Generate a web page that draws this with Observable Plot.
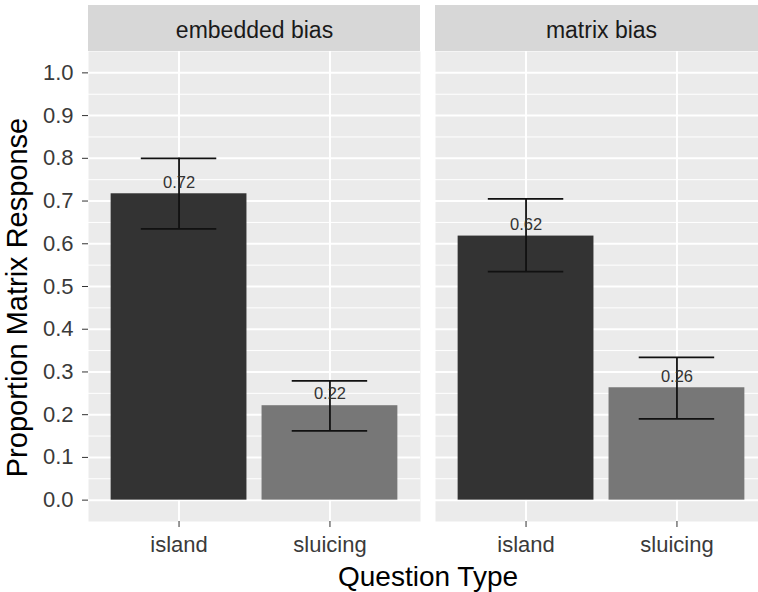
<!DOCTYPE html>
<html><head><meta charset="utf-8">
<script src="https://cdn.jsdelivr.net/npm/d3@7"></script>
<script src="https://cdn.jsdelivr.net/npm/@observablehq/plot@0.6"></script>
<style>html,body{margin:0;padding:0;background:#fff;overflow:hidden} #chart svg{max-width:none !important;}</style>
</head><body><div id="chart"></div>
<script>
// ---- data ----
const panels = ["embedded bias", "matrix bias"];
const questionTypes = ["island", "sluicing"];
const means = [0.717, 0.221, 0.618, 0.263];   // panel-major order
const lower = [0.635, 0.162, 0.535, 0.190];
const upper = [0.800, 0.279, 0.705, 0.334];
const yTicks = [0, 0.1, 0.2, 0.3, 0.4, 0.5, 0.6, 0.7, 0.8, 0.9, 1.0];
const yMinor = [0.05, 0.15, 0.25, 0.35, 0.45, 0.55, 0.65, 0.75, 0.85, 0.95];
const barColors = ["#333333", "#777777"];
const xTitle = "Question Type";
const yTitle = "Proportion Matrix Response";

const rows = [];
panels.forEach((p, i) => questionTypes.forEach((q, j) => {
  const k = i * questionTypes.length + j;
  rows.push({bias: p, q, mean: means[k], lo: lower[k], hi: upper[k]});
}));

// ---- layout ----
const W = 768, H = 592, mL = 88, mR = 1, mT = 51, mB = 71, gap = 15, stripH = 46;
const yDomain = [-0.05, 1.05];
const pxPerUnit = (H - mT - mB) / (yDomain[1] - yDomain[0]);
const stripTop = yDomain[1] + stripH / pxPerUnit;
const facetW = (W - mL - mR - gap) / 2;
const step = facetW / 2.2;
const capInset = (0.9 - 0.5) / 2 * step;
const font = "'Liberation Sans', Arial, Helvetica, sans-serif";

const chart = Plot.plot({
  width: W, height: H,
  marginLeft: mL, marginRight: mR, marginTop: mT, marginBottom: mB,
  style: {fontFamily: font, background: "white", overflow: "visible", maxWidth: "none"},
  fx: {domain: panels, paddingInner: gap / (facetW + gap), paddingOuter: 0, round: false},
  x: {domain: questionTypes, paddingInner: 0.1, paddingOuter: 0.15, round: false},
  y: {domain: yDomain},
  color: {domain: questionTypes, range: barColors},
  marks: [
    Plot.frame({fill: "#EBEBEB", stroke: null}),
    Plot.rect(panels, {fx: d => d, y1: yDomain[1], y2: stripTop, fill: "#D7D7D7"}),
    Plot.text(panels, {fx: d => d, text: d => d, frameAnchor: "top", lineAnchor: "middle", dy: -20.5, fontSize: 23, fill: "#1A1A1A"}),
    Plot.ruleY(yMinor, {stroke: "white", strokeWidth: 1}),
    Plot.ruleY(yTicks, {stroke: "white", strokeWidth: 2}),
    Plot.ruleX(questionTypes, {x: d => d, stroke: "white", strokeWidth: 2}),
    Plot.barY(rows, {fx: "bias", x: "q", y: "mean", fill: "q"}),
    Plot.ruleX(rows, {fx: "bias", x: "q", y1: "lo", y2: "hi", stroke: "#111", strokeWidth: 1.8}),
    Plot.tickY(rows, {fx: "bias", x: "q", y: "lo", stroke: "#111", strokeWidth: 1.8, insetLeft: capInset, insetRight: capInset}),
    Plot.tickY(rows, {fx: "bias", x: "q", y: "hi", stroke: "#111", strokeWidth: 1.8, insetLeft: capInset, insetRight: capInset}),
    Plot.text(rows, {fx: "bias", x: "q", y: "mean", text: d => d.mean.toFixed(2), dy: -11.5, fontSize: 16.5, fill: "#333"}),
    Plot.axisY({ticks: yTicks, tickFormat: d3.format(".1f"), fontSize: 22, tickSize: 6, tickPadding: 9, stroke: "#333", fill: "#3A3A3A", label: null}),
    Plot.axisX({fontSize: 22, tickSize: 6, tickPadding: 9, stroke: "#333", fill: "#3A3A3A", label: null}),
    Plot.text([yTitle], {frameAnchor: "left", textAnchor: "middle", dx: -70.6, dy: 11, rotate: -90, fontSize: 29, fill: "black", facetAnchor: "left"}),
    Plot.axisFx({anchor: "bottom", tickSize: 0, tickFormat: () => "", label: xTitle, labelAnchor: "center", labelOffset: 64, fontSize: 28, fill: "black"})
  ]
});
document.getElementById("chart").appendChild(chart);
</script>
</body></html>
